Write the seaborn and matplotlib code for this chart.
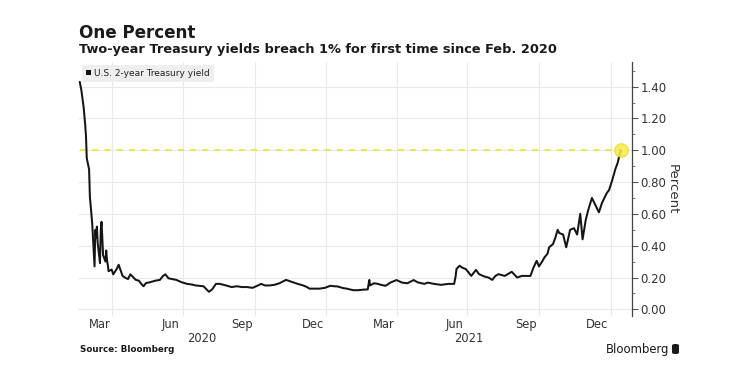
import matplotlib
matplotlib.use("Agg")
import matplotlib.pyplot as plt
import matplotlib.font_manager as fm
import matplotlib.transforms as mtransforms
import matplotlib.dates as mdates
from matplotlib.patches import Patch, FancyBboxPatch
from matplotlib.ticker import MultipleLocator, NullFormatter
import seaborn as sns
import pandas as pd

# ---------------- data ----------------
dates = [
    "2020-02-19", "2020-02-21", "2020-02-24", "2020-02-26", "2020-02-27", "2020-02-28",
    "2020-03-02", "2020-03-03", "2020-03-05", "2020-03-06", "2020-03-09", "2020-03-10",
    "2020-03-11", "2020-03-12", "2020-03-13", "2020-03-16", "2020-03-17", "2020-03-18",
    "2020-03-19", "2020-03-20", "2020-03-23", "2020-03-24", "2020-03-25", "2020-03-26",
    "2020-03-27", "2020-03-31", "2020-04-02", "2020-04-06", "2020-04-09", "2020-04-14",
    "2020-04-17", "2020-04-21", "2020-04-24", "2020-04-28", "2020-05-01", "2020-05-05",
    "2020-05-08", "2020-05-11", "2020-05-14", "2020-05-19", "2020-05-26", "2020-06-01",
    "2020-06-05", "2020-06-08", "2020-06-12", "2020-06-17", "2020-06-22", "2020-06-29",
    "2020-07-06", "2020-07-13", "2020-07-17", "2020-07-27", "2020-08-03", "2020-08-07",
    "2020-08-12", "2020-08-17", "2020-08-25", "2020-09-01", "2020-09-08", "2020-09-14",
    "2020-09-21", "2020-09-28", "2020-10-05", "2020-10-09", "2020-10-14", "2020-10-20",
    "2020-10-27", "2020-11-02", "2020-11-10", "2020-11-13", "2020-11-19", "2020-11-25",
    "2020-12-02", "2020-12-07", "2020-12-10", "2020-12-16", "2020-12-23", "2020-12-30",
    "2021-01-06", "2021-01-11", "2021-01-15", "2021-01-22", "2021-01-27", "2021-02-01",
    "2021-02-05", "2021-02-10", "2021-02-18", "2021-02-23", "2021-02-25", "2021-02-26",
    "2021-03-03", "2021-03-08", "2021-03-12", "2021-03-18", "2021-03-24", "2021-04-01",
    "2021-04-08", "2021-04-15", "2021-04-23", "2021-04-28", "2021-05-03", "2021-05-07",
    "2021-05-11", "2021-05-19", "2021-05-28", "2021-06-07", "2021-06-14", "2021-06-16",
    "2021-06-17", "2021-06-21", "2021-06-24", "2021-06-29", "2021-07-06", "2021-07-12",
    "2021-07-16", "2021-07-23", "2021-07-28", "2021-08-02", "2021-08-06", "2021-08-10",
    "2021-08-18", "2021-08-27", "2021-09-03", "2021-09-09", "2021-09-15", "2021-09-20",
    "2021-09-24", "2021-09-28", "2021-10-01", "2021-10-05", "2021-10-08", "2021-10-12",
    "2021-10-14", "2021-10-19", "2021-10-22", "2021-10-25", "2021-10-27", "2021-11-01",
    "2021-11-05", "2021-11-10", "2021-11-15", "2021-11-19", "2021-11-23", "2021-11-26",
    "2021-11-30", "2021-12-03", "2021-12-08", "2021-12-13", "2021-12-17", "2021-12-21",
    "2021-12-27", "2021-12-30", "2022-01-03", "2022-01-07", "2022-01-10", "2022-01-12",
    "2022-01-14",
]
yields = [
    1.43, 1.38, 1.27, 1.16, 1.09, 0.95,
    0.88, 0.71, 0.60, 0.54, 0.27, 0.50,
    0.45, 0.52, 0.42, 0.29, 0.50, 0.55,
    0.44, 0.34, 0.30, 0.37, 0.31, 0.28,
    0.24, 0.25, 0.22, 0.25, 0.28, 0.21,
    0.20, 0.19, 0.22, 0.20, 0.185, 0.18,
    0.16, 0.145, 0.165, 0.17, 0.18, 0.185,
    0.21, 0.22, 0.195, 0.19, 0.185, 0.17,
    0.16, 0.155, 0.15, 0.145, 0.11, 0.125,
    0.16, 0.16, 0.15, 0.14, 0.145, 0.14,
    0.14, 0.135, 0.15, 0.16, 0.15, 0.15,
    0.155, 0.165, 0.185, 0.18, 0.17, 0.16,
    0.15, 0.14, 0.13, 0.13, 0.13, 0.135,
    0.148, 0.145, 0.144, 0.134, 0.13, 0.124,
    0.12, 0.12, 0.124, 0.125, 0.185, 0.15,
    0.164, 0.16, 0.154, 0.148, 0.168, 0.184,
    0.168, 0.164, 0.184, 0.17, 0.164, 0.16,
    0.168, 0.16, 0.154, 0.16, 0.16, 0.21,
    0.254, 0.274, 0.263, 0.253, 0.21, 0.248,
    0.221, 0.206, 0.20, 0.185, 0.21, 0.221,
    0.21, 0.236, 0.20, 0.21, 0.21, 0.21,
    0.263, 0.305, 0.27, 0.30, 0.326, 0.35,
    0.39, 0.41, 0.45, 0.50, 0.48, 0.47,
    0.39, 0.50, 0.51, 0.47, 0.60, 0.44,
    0.56, 0.62, 0.70, 0.65, 0.61, 0.67,
    0.73, 0.75, 0.81, 0.88, 0.92, 0.96,
    1.00,
]
series_label = "U.S. 2-year Treasury yield"
threshold = 1.00
y_ticks = [0.0, 0.2, 0.4, 0.6, 0.8, 1.0, 1.2, 1.4]
month_tick_dates = ["2020-03-16", "2020-06-15", "2020-09-15", "2020-12-15",
                    "2021-03-16", "2021-06-15", "2021-09-15", "2021-12-15"]
month_labels = ["Mar", "Jun", "Sep", "Dec", "Mar", "Jun", "Sep", "Dec"]
grid_dates = ["2020-04-01", "2020-07-01", "2020-10-01", "2021-01-01",
              "2021-04-01", "2021-07-01", "2021-10-01", "2022-01-01"]
year_labels = ["2020", "2021"]
year_bounds = [("2020-01-01", "2021-01-01"), ("2021-01-01", "2022-01-01")]
title = "One Percent"
subtitle = "Two-year Treasury yields breach 1% for first time since Feb. 2020"
source = "Source: Bloomberg"

df = pd.DataFrame({"date": pd.to_datetime(dates), "yield": yields})

# ---------------- style ----------------
sns.set_theme(style="white")
names = {f.name for f in fm.fontManager.ttflist}
narrow = "Liberation Sans Narrow" if "Liberation Sans Narrow" in names else "DejaVu Sans"
plt.rcParams["font.family"] = ["DejaVu Sans"]

TXT = "#1a1a1a"
fig = plt.figure(figsize=(7.5, 3.74), dpi=100)
ax = fig.add_axes([78 / 750, 1 - 316 / 374, (632 - 78) / 750, (316 - 62) / 374])

# threshold line + marker
ax.hlines(threshold, df["date"].iloc[0], df["date"].iloc[-1], colors="#f2e21f",
          linestyles=(0, (4, 4)), lw=1.1, zorder=1)
sns.lineplot(data=df, x="date", y="yield", ax=ax, color="#151515", lw=1.45,
             legend=False, zorder=3, estimator=None)
ax.scatter([df["date"].iloc[-1]], [threshold], s=95, color="#f6ec4a", alpha=0.85,
           edgecolor="#ecdc20", lw=0.8, zorder=5)

# limits
ax.set_xlim(pd.Timestamp("2020-02-16 18:00"), pd.Timestamp("2022-01-28 12:00"))
ax.set_ylim(-0.042, 1.555)

# y axis on right
ax.yaxis.tick_right()
ax.set_yticks(y_ticks)
ax.set_yticklabels([f"{v:.2f}" for v in y_ticks])
ax.yaxis.set_minor_locator(MultipleLocator(0.1))
ax.tick_params(axis="y", which="major", length=4, width=0.8, color="#555555",
               labelsize=8.5, labelcolor="#333333", pad=2, direction="out",
               left=False, right=True)
ax.tick_params(axis="y", which="minor", length=2.5, width=0.7, color="#777777",
               left=False, right=True)
ax.set_ylabel("")
ax.set_xlabel("")

# x axis
ax.set_xticks(pd.to_datetime(month_tick_dates))
ax.set_xticklabels(month_labels)
ax.set_xticks(pd.to_datetime(grid_dates), minor=True)
ax.xaxis.set_minor_formatter(NullFormatter())
ax.tick_params(axis="x", which="both", length=0, pad=1.5, labelsize=8.3,
               labelcolor="#333333")
for lab in ax.get_xticklabels():
    lab.set_family([narrow, "DejaVu Sans"])

# grids
ax.grid(False)
ax.grid(axis="y", which="major", color="#e9e9e9", lw=0.8)
ax.grid(axis="x", which="minor", color="#e9e9e9", lw=0.8)
ax.set_axisbelow(True)

for s in ["left", "top", "bottom"]:
    ax.spines[s].set_visible(False)
ax.spines["right"].set_color("#444444")
ax.spines["right"].set_linewidth(0.9)

# year labels centred in the visible part of each year
trans = mtransforms.blended_transform_factory(ax.transData, ax.transAxes)
xl0, xl1 = ax.get_xlim()
for lab, (a, b) in zip(year_labels, year_bounds):
    a_n = max(mdates.date2num(pd.Timestamp(a)), xl0)
    b_n = min(mdates.date2num(pd.Timestamp(b)), xl1)
    ax.text((a_n + b_n) / 2, (316 - 339) / 254, lab, transform=trans, ha="center",
            va="center", fontsize=8.3, color="#333333", family=[narrow, "DejaVu Sans"])

# legend
leg = ax.legend(handles=[Patch(facecolor="#111111", edgecolor="none")],
                labels=[series_label], loc="upper left",
                bbox_to_anchor=((81.5 - 78) / 554, (316 - 64.5) / 254),
                borderaxespad=0, frameon=True, fancybox=False, framealpha=1,
                facecolor="#eeeeee", edgecolor="none", fontsize=6.5,
                handlelength=0.6, handleheight=0.6, handletextpad=0.3,
                borderpad=0.45)
for t in leg.get_texts():
    t.set_color("#222222")

# percent label
fig.text(672 / 750, 1 - 189 / 374, "Percent", rotation=270, ha="center", va="center",
         fontsize=9.5, color="#333333")

# titles
t1 = fig.text(79 / 750, 1 - 33 / 374, title, fontsize=14, weight="bold", color=TXT,
              ha="left", va="center")
t2 = fig.text(79 / 750, 1 - 49 / 374, subtitle, fontsize=9, weight="bold", color=TXT,
              ha="left", va="center")
t3 = fig.text(80 / 750, 1 - 350 / 374, source, fontsize=7.5, weight="bold", color=TXT,
              ha="left", va="center")
t4 = fig.text(669 / 750, 1 - 349 / 374, "Bloomberg", fontsize=9.5, color=TXT,
              ha="right", va="center")

# fit text widths to the reference
fig.canvas.draw()
for t, w in [(t1, 117), (t2, 475), (t3, 95), (t4, 64)]:
    cur = t.get_window_extent().width
    t.set_fontsize(t.get_fontsize() * w / cur)

# small Bloomberg icon
fig.patches.append(FancyBboxPatch((672 / 750, 1 - 354 / 374), 7 / 750, 10 / 374,
                                  boxstyle="round,pad=0,rounding_size=0.004",
                                  transform=fig.transFigure, facecolor=TXT,
                                  edgecolor="none"))

fig.savefig("out.png", dpi=100)
